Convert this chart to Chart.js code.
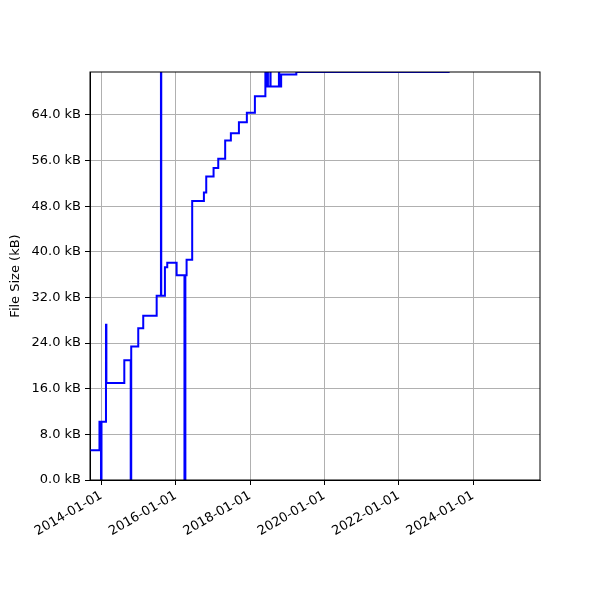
<!DOCTYPE html>
<html>
<head>
<meta charset="utf-8">
<script src="https://cdn.jsdelivr.net/npm/chart.js@4.4.0/dist/chart.umd.min.js"></script>
<style>
html, body { margin: 0; padding: 0; background: #fff; }
#wrap { width: 600px; height: 600px; }
</style>
</head>
<body>
<div id="wrap"><canvas id="sizeChart"></canvas></div>
<script>
// commit dates and file size (kB)
const commitDates = [
    '2013-09-01', '2013-12-14', '2013-12-29', '2014-01-03', '2014-02-16', '2014-02-20',
    '2014-08-15', '2014-10-17', '2014-10-22', '2014-12-30', '2015-02-17', '2015-06-29',
    '2015-08-10', '2015-08-13', '2015-09-18', '2015-10-11', '2016-01-11', '2016-03-28',
    '2016-04-06', '2016-04-18', '2016-06-12', '2016-10-05', '2016-10-28', '2017-01-08',
    '2017-02-23', '2017-05-02', '2017-06-27', '2017-09-14', '2017-12-01', '2018-02-18',
    '2018-06-01', '2018-06-04', '2018-06-13', '2018-06-15', '2018-06-24', '2018-06-26',
    '2018-07-20', '2018-07-22', '2018-10-12', '2018-10-15', '2018-11-03', '2019-04-01',
    '2023-05-16'
];
const fileSizes = [
    5.2, 10.2, 0, 10.2, 27.2, 17.0,
    21.0, 0, 23.4, 26.6, 28.8, 32.3,
    80, 32.3, 37.3, 38.1, 35.9, 0,
    35.9, 38.6, 48.9, 50.4, 53.2, 54.7,
    56.3, 59.5, 60.8, 62.7, 64.4, 67.3,
    80, 69.0, 80, 69.0, 80, 69.0,
    80, 69.0, 80, 69.0, 71.07, 71.53,
    71.53
];
const tickYears = [2014, 2016, 2018, 2020, 2022, 2024];
const yTicks = [0, 8, 16, 24, 32, 40, 48, 56, 64];
const xMin = '2013-09-12';
const xMax = '2025-10-20';
const yMax = 71.53;

Chart.defaults.font.family = 'DejaVu Sans';
Chart.defaults.font.size = 13;
Chart.defaults.color = '#000';

const points = commitDates.map((d, i) => ({ x: Date.parse(d), y: fileSizes[i] }));

// black box round the plot area, like matplotlib spines
const frameBox = {
    id: 'frameBox',
    afterDraw(chart) {
        const { ctx, chartArea: a } = chart;
        ctx.save();
        ctx.strokeStyle = '#000';
        ctx.lineWidth = 1;
        ctx.strokeRect(a.left, a.top, a.right - a.left, a.bottom - a.top);
        ctx.restore();
    }
};

new Chart(document.getElementById('sizeChart'), {
    type: 'line',
    data: {
        datasets: [{
            data: points,
            borderColor: '#0000ff',
            borderWidth: 2,
            pointRadius: 0,
            stepped: true,
            fill: false,
            clip: 0
        }]
    },
    options: {
        responsive: true,
        maintainAspectRatio: false,
        animation: false,
        layout: { padding: { top: 72, right: 60, left: 0, bottom: 0 } },
        plugins: { legend: { display: false }, tooltip: { enabled: false } },
        scales: {
            x: {
                type: 'linear',
                min: Date.parse(xMin),
                max: Date.parse(xMax),
                afterBuildTicks: s => { s.ticks = tickYears.map(y => ({ value: Date.UTC(y, 0, 1) })); },
                afterFit: s => { s.height = 120; },
                grid: { color: '#b0b0b0', tickColor: '#000', tickLength: 5 },
                border: { color: '#000' },
                ticks: {
                    autoSkip: false,
                    minRotation: 30,
                    maxRotation: 30,
                    padding: 3,
                    callback: v => new Date(v).toISOString().slice(0, 10)
                }
            },
            y: {
                min: 0,
                max: yMax,
                afterBuildTicks: s => { s.ticks = yTicks.map(v => ({ value: v })); },
                afterFit: s => { s.width = 90; },
                grid: { color: '#b0b0b0', tickColor: '#000', tickLength: 5 },
                border: { color: '#000' },
                ticks: { padding: 4, callback: v => v.toFixed(1) + ' kB' },
                title: { display: true, text: 'File Size (kB)', padding: { top: 8, bottom: 0 } }
            }
        }
    },
    plugins: [frameBox]
});
</script>
</body>
</html>
